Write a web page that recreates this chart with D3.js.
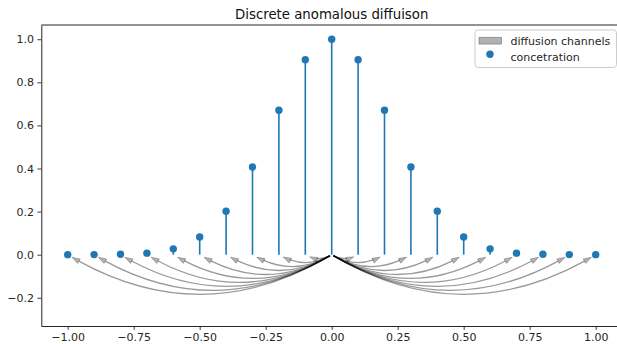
<!DOCTYPE html>
<html>
<head>
<meta charset="utf-8">
<script src="https://cdn.jsdelivr.net/npm/d3@7"></script>
<style>
  body { margin: 0; background: #fff; }
  svg { display: block; font-family: "DejaVu Sans", sans-serif; }
</style>
</head>
<body>
<div id="vis"></div>
<script>
// positions along the line and the concentration at each one
var positions = [-1.0, -0.9, -0.8, -0.7, -0.6, -0.5, -0.4, -0.3, -0.2, -0.1, 0.0,
                 0.1, 0.2, 0.3, 0.4, 0.5, 0.6, 0.7, 0.8, 0.9, 1.0];
var concentration = [0.00005, 0.0003, 0.002, 0.007, 0.027, 0.082, 0.202, 0.407, 0.670, 0.905, 1.0,
                     0.905, 0.670, 0.407, 0.202, 0.082, 0.027, 0.007, 0.002, 0.0003, 0.00005];
var xTicks = [-1.0, -0.75, -0.5, -0.25, 0.0, 0.25, 0.5, 0.75, 1.0];
var yTicks = [-0.2, 0.0, 0.2, 0.4, 0.6, 0.8, 1.0];
var source = 0.0;   // every channel starts here
var rad = 0.3;      // arc3 style bend

var W = 617, H = 344;
var margin = { top: 25, left: 41.3 },
    width = 580.8,
    height = 301;

var svg = d3.select("#vis")
    .append("svg")
    .attr("width", W)
    .attr("height", H);

var x = d3.scaleLinear().domain([-1.1, 1.1]).range([margin.left, margin.left + width]);
var y = d3.scaleLinear().domain([-0.331, 1.066]).range([margin.top + height, margin.top]);

var fmtX = function (d) { return d3.format(".2f")(d).replace("-", "\u2212"); };
var fmtY = function (d) { return d3.format(".1f")(d).replace("-", "\u2212"); };

// axes
var xAxis = svg.append("g")
    .attr("transform", "translate(0," + (margin.top + height) + ")")
    .call(d3.axisBottom(x).tickValues(xTicks).tickFormat(fmtX).tickSize(3.9).tickPadding(3.5).tickSizeOuter(0));
var yAxis = svg.append("g")
    .attr("transform", "translate(" + margin.left + ",0)")
    .call(d3.axisLeft(y).tickValues(yTicks).tickFormat(fmtY).tickSize(3.9).tickPadding(3.5).tickSizeOuter(0));

[xAxis, yAxis].forEach(function (a) {
    a.selectAll("text").attr("font-size", 11).attr("fill", "#262626").attr("font-family", "DejaVu Sans");
    a.selectAll("line").attr("stroke", "#262626").attr("stroke-width", 0.9);
    a.select(".domain").attr("stroke", "#262626").attr("stroke-width", 1);
});

// top spine
svg.append("line")
    .attr("x1", margin.left).attr("x2", margin.left + width)
    .attr("y1", margin.top).attr("y2", margin.top)
    .attr("stroke", "#262626").attr("stroke-width", 1);

// title
svg.append("text")
    .attr("x", x(0)).attr("y", 18.5)
    .attr("text-anchor", "middle")
    .attr("font-size", 13.3)
    .attr("fill", "#111")
    .text("Discrete anomalous diffuison");

// stems
var pts = positions.map(function (p, i) { return { x: p, c: concentration[i] }; });

svg.append("g").selectAll("line")
    .data(pts)
    .enter().append("line")
    .attr("x1", d => x(d.x)).attr("x2", d => x(d.x))
    .attr("y1", y(0)).attr("y2", d => y(d.c))
    .attr("stroke", "#1f77b4")
    .attr("stroke-width", 1.6);

svg.append("g").selectAll("circle")
    .data(pts)
    .enter().append("circle")
    .attr("cx", d => x(d.x)).attr("cy", d => y(d.c))
    .attr("r", 3.7)
    .attr("fill", "#1f77b4");

// diffusion channels: curved arrows from the source to each other site
function qpt(P0, P1, P2, t) {
    var u = 1 - t;
    return [u * u * P0[0] + 2 * u * t * P1[0] + t * t * P2[0],
            u * u * P0[1] + 2 * u * t * P1[1] + t * t * P2[1]];
}
function blossom(P0, P1, P2, a, b) {
    var w0 = (1 - a) * (1 - b), w1 = (1 - a) * b + a * (1 - b), w2 = a * b;
    return [w0 * P0[0] + w1 * P1[0] + w2 * P2[0], w0 * P0[1] + w1 * P1[1] + w2 * P2[1]];
}

var shrinkA = 2, shrinkB = 5, headLen = 8, headW = 2.6;
var arrows = svg.append("g");

pts.filter(d => d.x !== source).forEach(function (d) {
    var P0 = [x(source), y(0)], P2 = [x(d.x), y(0)];
    var L = Math.abs(P2[0] - P0[0]);
    var P1 = [(P0[0] + P2[0]) / 2, (P0[1] + P2[1]) / 2 + rad * L];
    var l01 = Math.hypot(P1[0] - P0[0], P1[1] - P0[1]);
    var l12 = Math.hypot(P2[0] - P1[0], P2[1] - P1[1]);
    var t0 = shrinkA / (2 * l01);
    var tTip = 1 - shrinkB / (2 * l12);
    var tEnd = tTip - headLen / (2 * l12);

    var a = qpt(P0, P1, P2, t0), b = qpt(P0, P1, P2, tEnd), c = blossom(P0, P1, P2, t0, tEnd);
    arrows.append("path")
        .attr("d", "M" + a + "Q" + c + " " + b)
        .attr("fill", "none")
        .attr("stroke", "black")
        .attr("stroke-opacity", 0.4)
        .attr("stroke-width", 1.3);

    var tip = qpt(P0, P1, P2, tTip);
    var dx = 2 * ((1 - tTip) * (P1[0] - P0[0]) + tTip * (P2[0] - P1[0]));
    var dy = 2 * ((1 - tTip) * (P1[1] - P0[1]) + tTip * (P2[1] - P1[1]));
    var n = Math.hypot(dx, dy); dx /= n; dy /= n;
    var base = [tip[0] - headLen * dx, tip[1] - headLen * dy];
    var w1 = [base[0] - headW * dy, base[1] + headW * dx];
    var w2 = [base[0] + headW * dy, base[1] - headW * dx];
    arrows.append("path")
        .attr("d", "M" + tip + "L" + w1 + "L" + w2 + "Z")
        .attr("fill", "black").attr("fill-opacity", 0.3)
        .attr("stroke", "black").attr("stroke-opacity", 0.3)
        .attr("stroke-width", 0.8);
});

// legend
var lg = svg.append("g").attr("transform", "translate(475,30)");
lg.append("rect")
    .attr("width", 141.5).attr("height", 37.5)
    .attr("rx", 3)
    .attr("fill", "white").attr("fill-opacity", 0.8)
    .attr("stroke", "#cccccc").attr("stroke-width", 1);
lg.append("rect")
    .attr("x", 4).attr("y", 7.3).attr("width", 22.5).attr("height", 6.8)
    .attr("fill", "black").attr("fill-opacity", 0.3)
    .attr("stroke", "black").attr("stroke-opacity", 0.35).attr("stroke-width", 0.8);
lg.append("text")
    .attr("x", 35.5).attr("y", 14.5)
    .attr("font-size", 11).attr("fill", "#262626")
    .text("diffusion channels");
lg.append("circle")
    .attr("cx", 15).attr("cy", 24.3).attr("r", 3.7)
    .attr("fill", "#1f77b4");
lg.append("line")
    .attr("x1", 15).attr("x2", 15).attr("y1", 24.3).attr("y2", 27.5)
    .attr("stroke", "#1f77b4").attr("stroke-width", 1.6);
lg.append("text")
    .attr("x", 35.5).attr("y", 31)
    .attr("font-size", 11).attr("fill", "#262626")
    .text("concetration");
</script>
</body>
</html>
